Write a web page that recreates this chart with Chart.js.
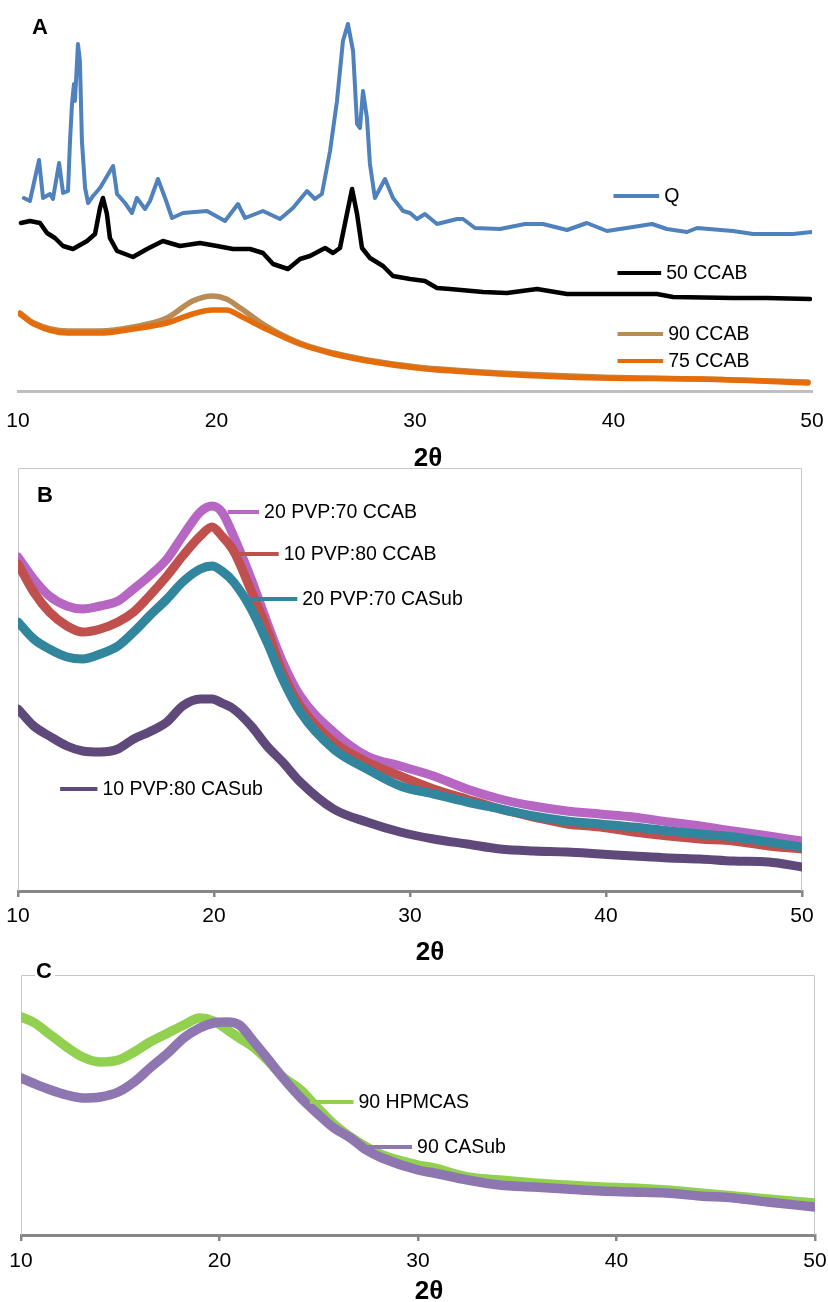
<!DOCTYPE html>
<html>
<head>
<meta charset="utf-8">
<title>XRD patterns A, B, C</title>
<script src="https://cdn.jsdelivr.net/npm/chart.js@4.4.1/dist/chart.umd.min.js"></script>
<style>
  body { margin: 0; background: #fff; width: 828px; height: 1302px; position: relative; overflow: hidden; }
  canvas { position: absolute; left: 0; }
</style>
</head>
<body>
<canvas id="panel-a" width="828" height="470" style="top:0"></canvas>
<canvas id="panel-b" width="828" height="500" style="top:460px"></canvas>
<canvas id="panel-c" width="828" height="342" style="top:960px"></canvas>
<script>
// ── Data (2θ in degrees, intensity in arbitrary units) ──
const thetaTicks = [10, 20, 30, 40, 50];

// Panel A
const qTheta = [10.30, 10.60, 11.06, 11.26, 11.61, 11.76, 12.07, 12.27, 12.52, 12.62,
  12.72, 12.82, 12.87, 13.02, 13.12, 13.22, 13.38, 13.53, 13.78, 14.13,
  14.79, 14.99, 15.39, 15.74, 15.99, 16.40, 16.65, 17.05, 17.41, 17.76,
  18.31, 19.52, 20.43, 21.08, 21.44, 22.34, 23.20, 23.85, 24.56, 24.96,
  25.31, 25.72, 26.07, 26.37, 26.62, 26.88, 27.08, 27.23, 27.38, 27.58,
  27.73, 27.98, 28.49, 28.89, 29.40, 29.75, 30.10, 30.50, 31.11, 32.12,
  32.42, 33.02, 34.28, 35.54, 36.45, 37.66, 38.66, 39.67, 40.98, 41.94,
  42.69, 43.70, 44.21, 46.02, 47.03, 49.04, 50.00];
const qCounts = [193, 190, 231, 193, 197, 192, 228, 198, 200, 250,
  287, 307, 290, 347, 330, 250, 203, 188, 195, 203,
  225, 197, 188, 178, 193, 182, 190, 212, 193, 173,
  178, 180, 170, 187, 173, 180, 172, 183, 200, 192,
  197, 240, 290, 350, 367, 340, 267, 263, 300, 273,
  227, 193, 212, 193, 180, 178, 172, 177, 167, 172,
  172, 163, 162, 167, 167, 161, 168, 160, 164, 167,
  162, 159, 163, 160, 157, 157, 159];

const ccab50Theta = [10.15, 10.60, 11.11, 11.46, 11.86, 12.27, 12.77, 13.48, 13.88, 14.13,
  14.28, 14.48, 14.63, 14.99, 15.79, 16.50, 17.30, 18.16, 19.17, 20.03,
  20.83, 21.69, 22.34, 22.85, 23.60, 24.21, 24.71, 25.47, 25.87, 26.22,
  26.57, 26.83, 27.08, 27.33, 27.73, 28.39, 28.89, 29.75, 30.50, 31.11,
  31.76, 33.43, 34.63, 36.15, 37.66, 40.18, 42.19, 43.00, 46.02, 47.73,
  49.90];
const ccab50Counts = [168, 170, 168, 158, 153, 145, 142, 150, 157, 183,
  193, 177, 153, 140, 134, 142, 150, 145, 148, 145,
  142, 142, 138, 127, 122, 132, 135, 143, 138, 143,
  177, 202, 177, 143, 133, 125, 115, 112, 110, 103,
  102, 99, 98, 102, 97, 97, 97, 94, 93, 93,
  92];

const ccabTheta = [10.1, 10.8, 12.5, 14.1, 15.8, 17.5, 18.8, 19.8, 20.5, 21.2,
  22.5, 24.2, 25.9, 27.6, 30.1, 34.3, 39.3, 44.4, 49.8];
const ccab90Counts = [78, 68, 60, 60, 64, 73, 90, 95, 92, 83, 65, 48, 38, 31, 24, 18, 14, 12, 9];
const ccab75Counts = [77, 67, 58, 58, 62, 68, 77, 81, 81, 75, 62, 47, 37, 30, 23, 17, 13, 12, 8];

// Panel B
const pvpTheta = [10.0, 10.8, 11.6, 12.5, 13.3, 14.2, 15.1, 15.9, 16.7, 17.6,
  18.4, 19.3, 19.9, 20.4, 21.0, 21.9, 22.7, 23.5, 24.4, 26.1,
  27.8, 29.5, 31.2, 32.9, 34.6, 36.3, 38.0, 39.7, 41.4, 43.2,
  44.8, 46.5, 48.3, 50.0];
const pvp20Ccab = [334, 312, 295, 285, 282, 285, 290, 302, 315, 332,
  355, 379, 385, 379, 355, 312, 269, 229, 195, 159,
  135, 125, 115, 102, 92, 85, 80, 77, 74, 69,
  65, 60, 55, 50];
const pvp10Ccab = [327, 299, 279, 265, 259, 262, 269, 279, 295, 315,
  335, 355, 364, 355, 340, 300, 262, 219, 185, 149,
  129, 115, 102, 92, 82, 74, 67, 64, 59, 55,
  52, 50, 45, 42];
const pvp20Casub = [269, 252, 242, 234, 232, 237, 245, 259, 275, 292,
  309, 322, 325, 320, 309, 282, 249, 212, 179, 142,
  122, 105, 97, 89, 82, 75, 70, 67, 64, 60,
  57, 54, 49, 44];
const pvp10Casub = [182, 165, 155, 145, 140, 139, 142, 152, 159, 169,
  185, 192, 192, 188, 182, 165, 145, 129, 109, 82,
  69, 59, 52, 47, 42, 40, 39, 37, 35, 33,
  32, 30, 29, 24];

// Panel C
const casTheta = [10.0, 10.6, 11.5, 12.3, 13.1, 14.0, 14.9, 15.7, 16.5, 17.4,
  18.2, 19.0, 19.7, 20.4, 21.0, 21.7, 22.4, 23.2, 24.1, 24.9,
  25.7, 26.6, 27.4, 28.2, 30.0, 30.8, 32.5, 34.1, 35.8, 37.5,
  39.2, 40.8, 42.5, 44.2, 45.9, 47.6, 50.0];
const hpmcas90 = [218, 213, 200, 188, 178, 173, 175, 183, 193, 202,
  210, 217, 214, 205, 197, 188, 175, 158, 145, 128,
  112, 98, 88, 80, 70, 67, 58, 55, 52, 50,
  48, 47, 45, 42, 39, 36, 32];
const casub90 = [157, 152, 145, 140, 137, 138, 143, 153, 167, 182,
  197, 207, 212, 213, 210, 194, 177, 157, 137, 122,
  108, 97, 85, 77, 65, 62, 55, 50, 48, 46,
  44, 43, 42, 39, 37, 33, 28];

// ── Look ─────────────────────────────────────────────────────────────────────
const FONT = "'Liberation Sans', Arial, Helvetica, sans-serif";
Chart.defaults.font.family = FONT;
Chart.defaults.color = "#000";

function series(label, thetas, counts, color, width, smooth) {
  return {
    label,
    data: thetas.map((t, i) => ({ x: t, y: counts[i] })),
    borderColor: color,
    backgroundColor: color,
    borderWidth: width,
    pointRadius: 0,
    fill: false,
    tension: smooth ? 0.4 : 0,
    cubicInterpolationMode: smooth ? "monotone" : "default",
    borderJoinStyle: "round",
    borderCapStyle: "round",
  };
}

// Panel furniture: frame, in-plot legend labels, panel letter and axis title.
const decorPlugin = {
  id: "decor",
  beforeDatasetsDraw(chart, args, opts) {
    if (!opts.frame) return;
    const { ctx, chartArea: a } = chart;
    ctx.save();
    ctx.strokeStyle = "#c6c6c6";
    ctx.lineWidth = 1;
    ctx.beginPath();
    ctx.moveTo(a.left + 0.5, a.bottom);
    ctx.lineTo(a.left + 0.5, a.top + 0.5);
    ctx.lineTo(a.right - 0.5, a.top + 0.5);
    ctx.lineTo(a.right - 0.5, a.bottom);
    ctx.stroke();
    ctx.restore();
  },
  afterDatasetsDraw(chart, args, opts) {
    const { ctx, scales: { x, y } } = chart;
    ctx.save();
    ctx.font = "19.5px " + FONT;
    ctx.textBaseline = "middle";
    ctx.textAlign = "left";
    (opts.entries || []).forEach(e => {
      const x0 = x.getPixelForValue(e.from), x1 = x.getPixelForValue(e.to);
      const py = y.getPixelForValue(e.at);
      ctx.strokeStyle = e.color;
      ctx.lineWidth = 4;
      ctx.beginPath();
      ctx.moveTo(x0, py);
      ctx.lineTo(x1, py);
      ctx.stroke();
      ctx.fillStyle = "#000";
      ctx.fillText(e.label, x1 + 5, py + 1);
    });
    ctx.restore();
  },
  afterDraw(chart, args, opts) {
    const { ctx } = chart;
    ctx.save();
    ctx.textBaseline = "alphabetic";
    ctx.textAlign = "left";
    ctx.font = "bold 22px " + FONT;
    const L = opts.letter;
    if (L.clear) {
      ctx.fillStyle = "#fff";
      ctx.fillRect(L.x - 1, L.y - 17, 20, 18);
    }
    ctx.fillStyle = "#000";
    ctx.fillText(L.text, L.x, L.y);
    ctx.font = "bold 26px " + FONT;
    ctx.textAlign = "center";
    ctx.fillText("2θ", opts.titleX, opts.titleY);
    ctx.restore();
  },
};

// Tick padding is kept tiny (Chart.js adds it to the side padding);
// the label drop below the axis is set through the font line height instead.
function makePanel(id, datasets, g, decor) {
  const axisLine = g.ticks
    ? { grid: { display: true, drawOnChartArea: false, drawTicks: true, tickLength: 6, color: "#868686", lineWidth: 2.5 },
        border: { display: true, color: "#868686", width: 3 } }
    : { grid: { display: false, drawTicks: false },
        border: { display: true, color: "#bfbfbf", width: 3 } };
  return new Chart(document.getElementById(id), {
    type: "line",
    data: { datasets },
    options: {
      responsive: false,
      animation: false,
      events: [],
      layout: { padding: { left: g.left, right: g.right, top: g.top, bottom: 0 } },
      scales: {
        x: {
          type: "linear",
          min: 10, max: 50,
          afterBuildTicks: s => { s.ticks = thetaTicks.map(v => ({ value: v })); },
          afterFit: s => { s.height = g.axisHeight; },
          ticks: { font: { size: 21, lineHeight: g.labelLH }, color: "#000", padding: 1, maxRotation: 0 },
          ...axisLine,
        },
        y: { display: false, min: 0, max: g.yMax },
      },
      plugins: { legend: { display: false }, tooltip: { enabled: false }, decor },
    },
    plugins: [decorPlugin],
  });
}

// ── Panel A ──────────────────────────────────────────────────────────────────
makePanel("panel-a", [
  series("75 CCAB", ccabTheta, ccab75Counts, "#e46c0a", 5.5, true),
  series("90 CCAB", ccabTheta, ccab90Counts, "#b98c55", 5.5, true),
  series("50 CCAB", ccab50Theta, ccab50Counts, "#000000", 4.5, false),
  series("Q", qTheta, qCounts, "#4f81bd", 4, false),
], { left: 18, right: 16, top: 10, axisHeight: 79, yMax: 381, labelLH: 2.75, ticks: false }, {
  entries: [
    { label: "Q", color: "#4f81bd", from: 40.0, to: 42.3, at: 195 },
    { label: "50 CCAB", color: "#000000", from: 40.2, to: 42.4, at: 118 },
    { label: "90 CCAB", color: "#b98c55", from: 40.2, to: 42.5, at: 57 },
    { label: "75 CCAB", color: "#e46c0a", from: 40.2, to: 42.5, at: 30 },
  ],
  letter: { text: "A", x: 32, y: 34 },
  titleX: 428, titleY: 466,
});

// ── Panel B ──────────────────────────────────────────────────────────────────
makePanel("panel-b", [
  series("10 PVP:80 CASub", pvpTheta, pvp10Casub, "#5f497a", 9, true),
  series("20 PVP:70 CASub", pvpTheta, pvp20Casub, "#31859c", 9, true),
  series("10 PVP:80 CCAB", pvpTheta, pvp10Ccab, "#c0504d", 9, true),
  series("20 PVP:70 CCAB", pvpTheta, pvp20Ccab, "#b866c4", 9, true),
], { left: 18, right: 26, top: 8, axisHeight: 69, yMax: 423, labelLH: 1.75, ticks: true }, {
  frame: true,
  entries: [
    { label: "20 PVP:70 CCAB", color: "#b866c4", from: 20.7, to: 22.3, at: 379 },
    { label: "10 PVP:80 CCAB", color: "#c0504d", from: 21.1, to: 23.3, at: 337 },
    { label: "20 PVP:70 CASub", color: "#31859c", from: 21.7, to: 24.25, at: 292 },
    { label: "10 PVP:80 CASub", color: "#5f497a", from: 12.15, to: 14.05, at: 102 },
  ],
  letter: { text: "B", x: 37, y: 42 },
  titleX: 430, titleY: 500,
});

// ── Panel C ──────────────────────────────────────────────────────────────────
makePanel("panel-c", [
  series("90 CASub", casTheta, casub90, "#8e77b0", 9.5, true),
  series("90 HPMCAS", casTheta, hpmcas90, "#92d050", 9.5, true),
], { left: 21, right: 13, top: 15, axisHeight: 67, yMax: 260, labelLH: 1.8, ticks: true }, {
  frame: true,
  entries: [
    { label: "90 HPMCAS", color: "#92d050", from: 24.55, to: 26.75, at: 133 },
    { label: "90 CASub", color: "#8e77b0", from: 27.25, to: 29.7, at: 88 },
  ],
  letter: { text: "C", x: 36, y: 18, clear: true },
  titleX: 429, titleY: 339,
});
</script>
</body>
</html>
